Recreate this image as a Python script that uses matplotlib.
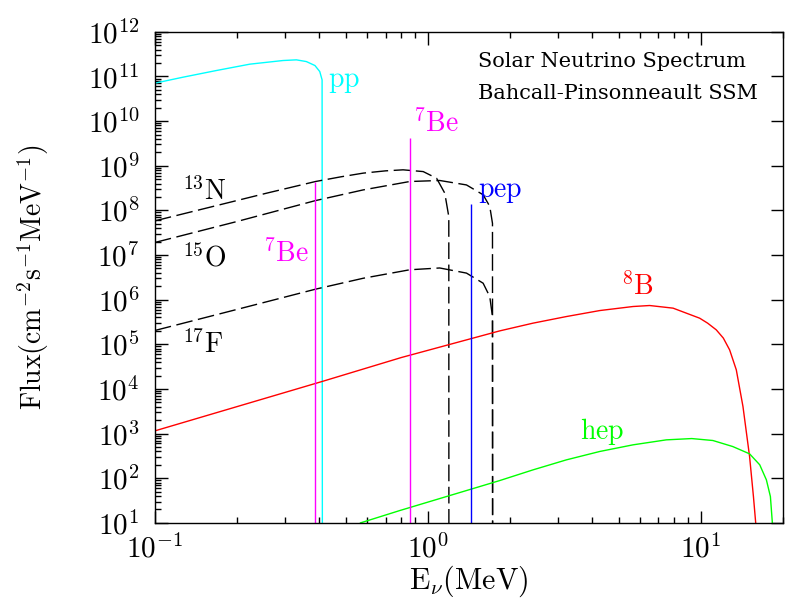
import matplotlib.pyplot as plt
import numpy as np
from matplotlib.ticker import LogLocator, FuncFormatter, NullFormatter

plt.rcParams['mathtext.fontset'] = 'cm'
plt.rcParams['font.family'] = 'DejaVu Serif'

# continuum spectra (E in MeV, flux in cm^-2 s^-1 MeV^-1)
pp_E = [0.100, 0.127, 0.168, 0.223, 0.295, 0.330, 0.359, 0.386, 0.402, 0.410, 0.411]
pp_F = [7.08e10, 9.66e10, 1.36e11, 1.89e11, 2.28e11, 2.36e11, 2.16e11, 1.76e11, 1.29e11, 8.4e10, 1.0]

n13_E = [0.100, 0.2566, 0.388, 0.48, 0.58, 0.70, 0.812, 0.962, 1.077, 1.154, 1.194, 1.195]
n13_F = [5.83e7, 2.43e8, 4.44e8, 5.65e8, 6.84e8, 7.69e8, 8.11e8, 7.41e8, 5.25e8, 2.44e8, 7.24e7, 1.0]

o15_E = [0.100, 0.1995, 0.388, 0.58, 0.859, 1.106, 1.386, 1.595, 1.687, 1.726, 1.728]
o15_F = [1.91e7, 5.62e7, 1.66e8, 2.88e8, 4.44e8, 4.68e8, 3.72e8, 2.24e8, 1.23e8, 5.13e7, 1.0]

f17_E = [0.100, 0.1995, 0.388, 0.58, 0.859, 1.106, 1.386, 1.595, 1.687, 1.726, 1.728]
f17_F = [2.04e5, 6.03e5, 1.72e6, 3.02e6, 4.68e6, 5.13e6, 3.94e6, 2.34e6, 1.17e6, 4.17e5, 1.0]

b8_E = [0.10, 0.41, 0.80, 1.835, 2.43, 3.22, 4.27, 5.65, 6.5, 7.92, 9.91, 10.6, 11.4, 12.1,
        12.76, 13.5, 14.28, 15.1, 15.6, 15.9, 16.0]
b8_F = [1.15e3, 1.47e4, 5.06e4, 2.00e5, 2.98e5, 4.19e5, 5.71e5, 7.03e5, 7.40e5, 6.46e5, 3.85e5, 2.98e5,
        2.11e5, 1.38e5, 7.52e4, 2.68e4, 4.05e3, 307, 38.9, 10, 1.0]

hep_E = [0.567, 0.79, 1.835, 2.43, 3.22, 4.27, 5.65, 7.48, 9.27, 11.08, 13.1, 15.1, 16.45, 17.4, 18.0, 18.3]
hep_F = [10, 18.9, 88.7, 154, 258, 398, 560, 724, 774, 700, 513, 352, 200, 92, 38.9, 10]

# line sources: energy, flux at top of the line
line_names = ['Be7_low', 'Be7_high', 'pep']
line_E = [0.385, 0.862, 1.445]
line_F = [4.4e8, 4.2e9, 1.4e8]
line_colors = ['#ff00ff', '#ff00ff', '#0000ff']

fig, ax = plt.subplots(figsize=(7.9, 6.01), dpi=100)
fig.subplots_adjust(left=0.196, right=0.991, bottom=0.130, top=0.947)

ax.set_xscale('log')
ax.set_yscale('log')
ax.set_xlim(0.1, 20)
ax.set_ylim(10, 1e12)

lw = 1.0
ax.plot(pp_E, pp_F, color='#00ffff', lw=lw)
for E, F in ((n13_E, n13_F), (o15_E, o15_F), (f17_E, f17_F)):
    ax.plot(E, F, color='black', lw=lw, dashes=(12, 4))
ax.plot(b8_E, b8_F, color='#ff0000', lw=lw)
ax.plot(hep_E, hep_F, color='#00ff00', lw=lw)
ax.vlines(line_E, 10, line_F, colors=line_colors, lw=lw)

# labels
fs = 20
ax.text(0.431, 10**10.775, r'$\mathrm{pp}$', color='#00ffff', fontsize=fs)
ax.text(0.881, 10**9.767, r'$^7\mathrm{Be}$', color='#ff00ff', fontsize=fs)
ax.text(0.249, 10**6.855, r'$^7\mathrm{Be}$', color='#ff00ff', fontsize=fs)
ax.text(1.524, 10**8.31, r'$\mathrm{pep}$', color='#0000ff', fontsize=fs)
ax.text(5.12, 10**6.11, r'$^8\mathrm{B}$', color='#ff0000', fontsize=fs)
ax.text(3.6, 10**2.876, r'$\mathrm{hep}$', color='#00ff00', fontsize=fs)
ax.text(0.1256, 10**8.24, r'$^{13}\mathrm{N}$', color='black', fontsize=fs)
ax.text(0.1256, 10**6.743, r'$^{15}\mathrm{O}$', color='black', fontsize=fs)
ax.text(0.1256, 10**4.81, r'$^{17}\mathrm{F}$', color='black', fontsize=fs)

ax.text(0.514, 0.929, 'Solar Neutrino Spectrum', transform=ax.transAxes, fontsize=15)
ax.text(0.514, 0.863, 'Bahcall-Pinsonneault SSM', transform=ax.transAxes, fontsize=15)

ax.set_xlabel(r'$\mathrm{E_\nu (MeV)}$', fontsize=21.5, labelpad=0)
ax.set_ylabel(r'$\mathrm{Flux(cm^{-2}s^{-1}MeV^{-1})}$', fontsize=20, labelpad=26)

fmt = FuncFormatter(lambda v, pos: r'$10^{%d}$' % round(np.log10(v)))
for axis in (ax.xaxis, ax.yaxis):
    axis.set_major_locator(LogLocator(base=10, numticks=20))
    axis.set_minor_locator(LogLocator(base=10, subs=np.arange(2, 10), numticks=20))
    axis.set_major_formatter(fmt)
    axis.set_minor_formatter(NullFormatter())

ax.tick_params(which='both', direction='in', top=True, right=True, width=1)
ax.tick_params(which='major', length=9, labelsize=21)
ax.tick_params(which='minor', length=4.5)
ax.tick_params(which='minor', axis='y', right=False)
ax.tick_params(axis='y', pad=11)
ax.tick_params(axis='x', pad=8)
for s in ax.spines.values():
    s.set_linewidth(1.0)

fig.savefig('out.png', dpi=100)
